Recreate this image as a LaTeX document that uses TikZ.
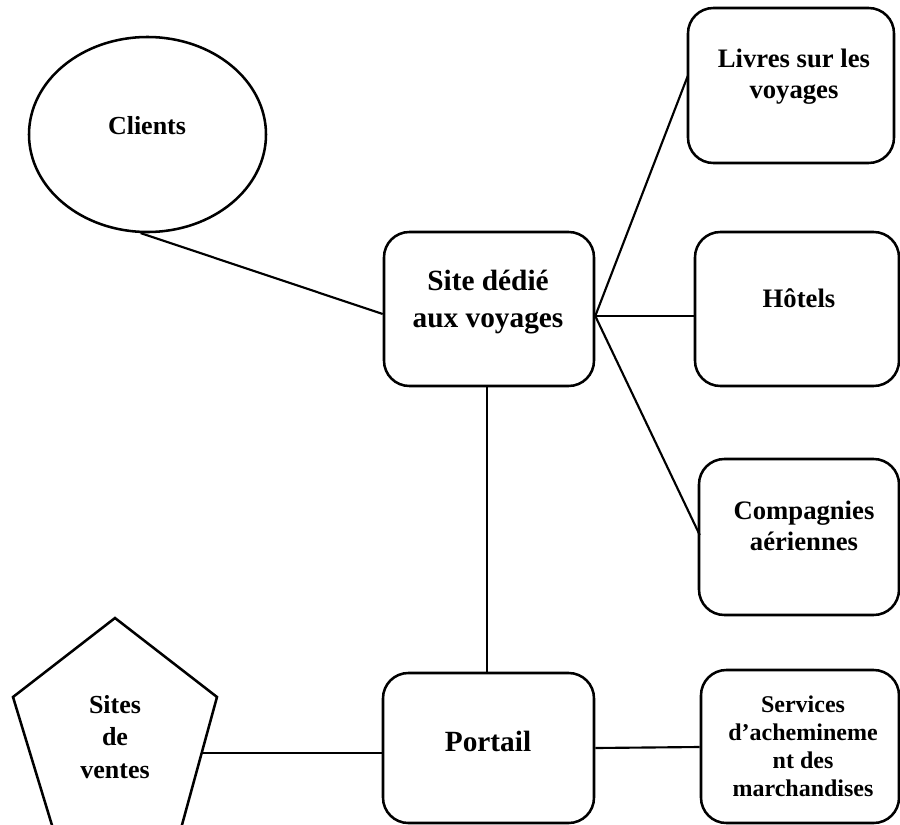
\documentclass[tikz,border=0pt]{standalone}
\usepackage{fontspec}
\setmainfont{Liberation Serif}
\usetikzlibrary{shapes.geometric,calc}
% centred multi-line label whose baseline is that of its first line
\newcommand\mlines[1]{\begin{tabular}[t]{@{}c@{}}#1\end{tabular}}
\begin{document}
\begin{tikzpicture}[x=0.75pt,y=-0.75pt,
  box/.style={draw, line width=1.9pt, rounded corners=19pt, inner sep=0pt},
  oval/.style={draw, ellipse, line width=1.9pt, inner sep=0pt},
  link/.style={draw, line width=1.6pt},
  lbl/.style 2 args={anchor=base, inner sep=0pt,
    font=\bfseries\fontsize{#1}{#2}\selectfont}]
\useasboundingbox (0,0) rectangle (900,825);
\clip (0,0) rectangle (900,825);

% shapes
\node[oval, minimum width=177.75pt, minimum height=146.25pt] (clients) at (147.5,134.5) {};
\node[box, minimum width=157.5pt, minimum height=115.5pt] (site) at (489,309) {};
\node[box, minimum width=154.5pt, minimum height=116.25pt] (livres) at (791,85.5) {};
\node[box, minimum width=153pt, minimum height=115.5pt] (hotels) at (797,309) {};
\node[box, minimum width=150pt, minimum height=117pt] (compagnies) at (799,537) {};
\node[box, minimum width=158.25pt, minimum height=112.5pt] (portail) at (488.5,748) {};
\node[box, minimum width=148.5pt, minimum height=114.75pt] (services) at (800,746.5) {};

% pentagon (its lower part runs past the page edge)
\coordinate (p-top) at (115,618);
\coordinate (p-ul) at (13,697);
\coordinate (p-ur) at (217,697);
\coordinate (p-bl) at (58,845);
\coordinate (p-br) at (176.5,845);
\draw[line width=1.9pt, line join=miter] (p-bl) -- (p-ul) -- (p-top) -- (p-ur) -- (p-br);
\coordinate (p-e) at (202,753);

% labels
\node[lbl={19.5}{24}] (clients-t) at (147,134) {Clients};
\node[lbl={22}{27.75}] (site-t) at (488,290) {\mlines{Site dédié\\aux voyages}};
\node[lbl={20}{23.5}] (livres-t) at (794,67) {\mlines{Livres sur les\\voyages}};
\node[lbl={20}{24}] (hotels-t) at (799,307) {Hôtels};
\node[lbl={20}{23.25}] (compagnies-t) at (804,519) {\mlines{Compagnies\\aériennes}};
\node[lbl={22}{26}] (portail-t) at (488,751) {Portail};
\node[lbl={18}{21.2}] (services-t) at (803,712) {\mlines{Services\\d’achemineme\\nt des\\marchandises}};
\node[lbl={19.5}{24.4}] (sites-t) at (115,713) {\mlines{Sites\\de\\ventes}};

% connectors
\coordinate (hub) at ($(site.east)+(0,7)$);
\draw[link] (clients.-94.4) -- ($(site.west)+(0,5)$);
\draw[link] (hub) -- ($(livres.west)+(1,-9.5)$);
\draw[link] (hub) -- ($(hotels.west)+(0,7)$);
\draw[link] (hub) -- ($(compagnies.west)+(2,-2)$);
\draw[link] ($(site.south)+(-2,0)$) -- ($(portail.north)+(-1.5,0)$);
\draw[link] (portail.east) -- ($(services.west)+(0,0.5)$);
\draw[link] (p-e) -- ($(portail.west)+(0,5)$);
\end{tikzpicture}
\end{document}
